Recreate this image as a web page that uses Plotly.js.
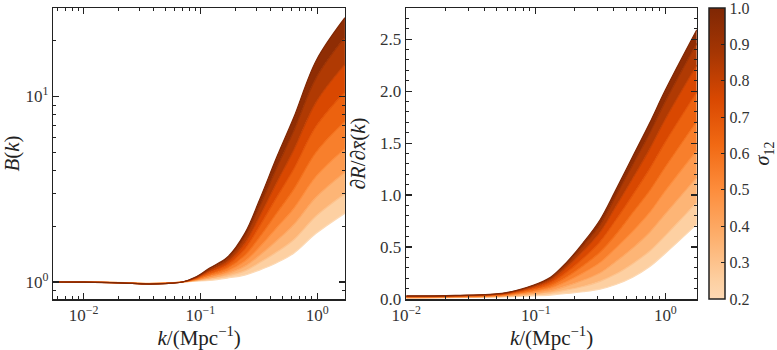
<!DOCTYPE html>
<html>
<head>
<meta charset="utf-8">
<script src="https://cdn.plot.ly/plotly-3.0.1.min.js"></script>
<style>
  html, body { margin: 0; padding: 0; background: #fff; }
  #chart { width: 777px; height: 350px; }
</style>
</head>
<body>
<div id="chart"></div>
<script>
// sigma_12 values of the curves shown (colour coded)
const sigmas = [0.2, 0.3, 0.4, 0.5, 0.6, 0.7, 0.8, 0.9, 1.0];

// left panel: B(k)
const kLeft = [0.0055, 0.01, 0.02, 0.036, 0.05, 0.07, 0.09, 0.12, 0.17, 0.24, 0.32, 0.45, 0.63, 0.98, 1.73];
const b02 = [1.0, 0.999, 0.995, 0.985, 0.99, 1.0, 1.01, 1.02, 1.05, 1.09, 1.16, 1.27, 1.43, 1.83, 2.35];
const b03 = [1.0, 0.999, 0.994, 0.984, 0.988, 1.0, 1.015, 1.036, 1.077, 1.148, 1.27, 1.45, 1.69, 2.27, 2.99];
const b04 = [1.0, 0.999, 0.993, 0.982, 0.987, 1.0, 1.02, 1.053, 1.109, 1.215, 1.39, 1.67, 2.04, 2.87, 3.91];
const b05 = [1.0, 0.999, 0.992, 0.981, 0.986, 1.0, 1.026, 1.073, 1.144, 1.293, 1.54, 1.96, 2.49, 3.71, 5.23];
const b06 = [1.0, 0.998, 0.992, 0.979, 0.985, 1.0, 1.033, 1.096, 1.186, 1.391, 1.74, 2.35, 3.16, 5.01, 7.35];
const b07 = [1.0, 0.998, 0.991, 0.978, 0.984, 1.0, 1.041, 1.122, 1.232, 1.503, 1.99, 2.86, 4.06, 6.91, 10.6];
const b08 = [1.0, 0.998, 0.99, 0.977, 0.982, 1.0, 1.048, 1.147, 1.278, 1.616, 2.24, 3.43, 5.14, 9.33, 14.9];
const b09 = [1.0, 0.998, 0.99, 0.976, 0.981, 1.0, 1.055, 1.17, 1.325, 1.74, 2.53, 4.12, 6.51, 12.6, 20.9];
const b10 = [1.0, 0.998, 0.99, 0.975, 0.98, 1.0, 1.06, 1.19, 1.36, 1.83, 2.76, 4.7, 7.7, 15.6, 26.6];

// right panel: dR/dxbar(k)
const kRight = [0.01, 0.024, 0.058, 0.0965, 0.13, 0.172, 0.232, 0.313, 0.415, 0.56, 0.755, 1.0, 1.75];
const dr02 = [0.008, 0.012, 0.020, 0.030, 0.038, 0.053, 0.07, 0.095, 0.14, 0.21, 0.31, 0.44, 0.72];
const dr03 = [0.010, 0.015, 0.024, 0.042, 0.057, 0.086, 0.12, 0.17, 0.24, 0.34, 0.46, 0.61, 0.93];
const dr04 = [0.013, 0.018, 0.030, 0.055, 0.079, 0.124, 0.18, 0.25, 0.36, 0.49, 0.64, 0.82, 1.17];
const dr05 = [0.016, 0.021, 0.035, 0.070, 0.103, 0.166, 0.25, 0.35, 0.49, 0.65, 0.83, 1.04, 1.43];
const dr06 = [0.020, 0.024, 0.041, 0.086, 0.129, 0.21, 0.32, 0.45, 0.62, 0.83, 1.04, 1.27, 1.71];
const dr07 = [0.023, 0.028, 0.047, 0.101, 0.155, 0.255, 0.39, 0.55, 0.76, 1.00, 1.25, 1.51, 1.99];
const dr08 = [0.026, 0.031, 0.053, 0.116, 0.179, 0.30, 0.46, 0.64, 0.89, 1.16, 1.44, 1.73, 2.25];
const dr09 = [0.028, 0.033, 0.057, 0.128, 0.20, 0.33, 0.51, 0.71, 0.99, 1.29, 1.59, 1.90, 2.46];
const dr10 = [0.03, 0.035, 0.06, 0.135, 0.21, 0.35, 0.54, 0.76, 1.05, 1.37, 1.69, 2.01, 2.59];

const leftCurves = [b02, b03, b04, b05, b06, b07, b08, b09, b10];
const rightCurves = [dr02, dr03, dr04, dr05, dr06, dr07, dr08, dr09, dr10];

const cbTicks = [0.2, 0.3, 0.4, 0.5, 0.6, 0.7, 0.8, 0.9, 1.0];

// Oranges, shown from 0.2 to 1.0
const SCALE = [
    [0, '#fdd9b4'], [0.0625, '#fdd0a2'], [0.21875, '#fdae6b'], [0.375, '#fd8d3c'],
    [0.53125, '#f16913'], [0.6875, '#d94801'], [0.84375, '#a63603'], [1, '#7f2704']
];

function hexToRgb(h) {
    return [parseInt(h.slice(1, 3), 16), parseInt(h.slice(3, 5), 16), parseInt(h.slice(5, 7), 16)];
}

function colorAt(s) {
    const t = Math.min(1, Math.max(0, (s - 0.2) / 0.8));
    for (let i = 1; i < SCALE.length; i++) {
        if (t <= SCALE[i][0]) {
            const a = hexToRgb(SCALE[i - 1][1]), b = hexToRgb(SCALE[i][1]);
            const f = (t - SCALE[i - 1][0]) / (SCALE[i][0] - SCALE[i - 1][0]);
            const c = a.map((v, j) => Math.round(v + (b[j] - v) * f));
            return `rgb(${c[0]},${c[1]},${c[2]})`;
        }
    }
    return SCALE[SCALE.length - 1][1];
}

const traces = [];

function addBand(kArr, curves, xa, ya) {
    curves.forEach((ys, i) => {
        traces.push({
            x: kArr,
            y: ys,
            xaxis: xa,
            yaxis: ya,
            type: 'scatter',
            mode: 'lines',
            line: { color: colorAt(sigmas[i]), width: 1.2, shape: 'spline', smoothing: 1 },
            fill: i === 0 ? 'none' : 'tonexty',
            fillcolor: i === 0 ? undefined : colorAt((sigmas[i] + sigmas[i - 1]) / 2),
            showlegend: false,
            hoverinfo: 'skip'
        });
    });
}

addBand(kLeft, leftCurves, 'x', 'y');
addBand(kRight, rightCurves, 'x2', 'y2');

// colour bar only
traces.push({
    x: [0.01, 0.01],
    y: [1, 1],
    xaxis: 'x',
    yaxis: 'y',
    type: 'scatter',
    mode: 'markers',
    marker: {
        size: 1,
        opacity: 0,
        color: [0.2, 1.0],
        cmin: 0.2,
        cmax: 1.0,
        colorscale: SCALE,
        showscale: true,
        colorbar: {
            x: 717 / 777,
            xanchor: 'left',
            y: 1 - 8 / 350,
            yanchor: 'top',
            len: 291,
            lenmode: 'pixels',
            thickness: 16,
            thicknessmode: 'pixels',
            outlinewidth: 1.5,
            outlinecolor: '#222',
            ticks: 'inside',
            ticklen: 4,
            tickcolor: '#222',
            tickmode: 'array',
            tickvals: cbTicks,
            ticktext: cbTicks.map(v => v.toFixed(1)),
            ticklabeloverflow: 'allow',
            xpad: 0,
            ypad: 0,
            tickfont: { size: 16, color: '#333' },
            title: { text: '<i>σ</i><sub>12</sub>', side: 'right', font: { size: 20, color: '#222' } }
        }
    },
    showlegend: false,
    hoverinfo: 'skip'
});

const decades = [0.01, 0.1, 1];
const decadeText = ['10<sup>−2</sup>', '10<sup>−1</sup>', '10<sup>0</sup>'];
const minorK = [0.006, 0.007, 0.008, 0.009, 0.02, 0.03, 0.04, 0.05, 0.06, 0.07, 0.08, 0.09,
    0.2, 0.3, 0.4, 0.5, 0.6, 0.7, 0.8, 0.9];

const axisCommon = {
    showline: true,
    linecolor: '#222',
    linewidth: 1.5,
    mirror: 'allticks',
    ticks: 'inside',
    ticklen: 6,
    tickwidth: 1.2,
    tickcolor: '#222',
    showgrid: false,
    zeroline: false,
    automargin: false,
    ticklabeloverflow: 'allow',
    tickfont: { size: 17, color: '#333' }
};

const kAxis = {
    ...axisCommon,
    type: 'log',
    tickmode: 'array',
    tickvals: decades,
    ticktext: decadeText,
    minor: { tickmode: 'array', tickvals: minorK, ticks: 'inside', ticklen: 3, tickwidth: 1, tickcolor: '#222', showgrid: false },
    title: { text: '<i>k</i>/(Mpc<sup>−1</sup>)', font: { size: 21, color: '#222' }, standoff: 4 }
};

const layout = {
    width: 777,
    height: 350,
    margin: { l: 0, r: 0, t: 0, b: 0 },
    paper_bgcolor: '#fff',
    plot_bgcolor: '#fff',
    font: { family: '"Liberation Serif", "DejaVu Serif", serif', color: '#222' },
    xaxis: {
        ...kAxis,
        domain: [54 / 777, 349 / 777],
        range: [Math.log10(0.0055), Math.log10(1.73)],
        anchor: 'y'
    },
    yaxis: {
        ...axisCommon,
        type: 'log',
        domain: [1 - 299 / 350, 1 - 8 / 350],
        range: [Math.log10(0.81), Math.log10(30)],
        tickmode: 'array',
        tickvals: [1, 10],
        ticktext: ['10<sup>0</sup>', '10<sup>1</sup>'],
        minor: { tickmode: 'array', tickvals: [0.9, 2, 3, 4, 5, 6, 7, 8, 9, 20, 30], ticks: 'inside', ticklen: 3, tickwidth: 1, tickcolor: '#222', showgrid: false },
        title: { text: '<i>B</i>(<i>k</i>)', font: { size: 21, color: '#222' }, standoff: 6 },
        anchor: 'x'
    },
    xaxis2: {
        ...kAxis,
        domain: [411 / 777, 705 / 777],
        range: [-2, Math.log10(1.75)],
        anchor: 'y2'
    },
    yaxis2: {
        ...axisCommon,
        domain: [1 - 299 / 350, 1 - 8 / 350],
        range: [0, 2.8],
        tick0: 0,
        dtick: 0.5,
        tickformat: '.1f',
        minor: { dtick: 0.1, ticks: 'inside', ticklen: 3, tickwidth: 1, tickcolor: '#222', showgrid: false },
        title: { text: '∂<i>R</i>/∂<i>x̄</i>(<i>k</i>)', font: { size: 21, color: '#222' }, standoff: 8 },
        anchor: 'x2'
    }
};

Plotly.newPlot('chart', traces, layout, { displayModeBar: false, staticPlot: true });
</script>
</body>
</html>
